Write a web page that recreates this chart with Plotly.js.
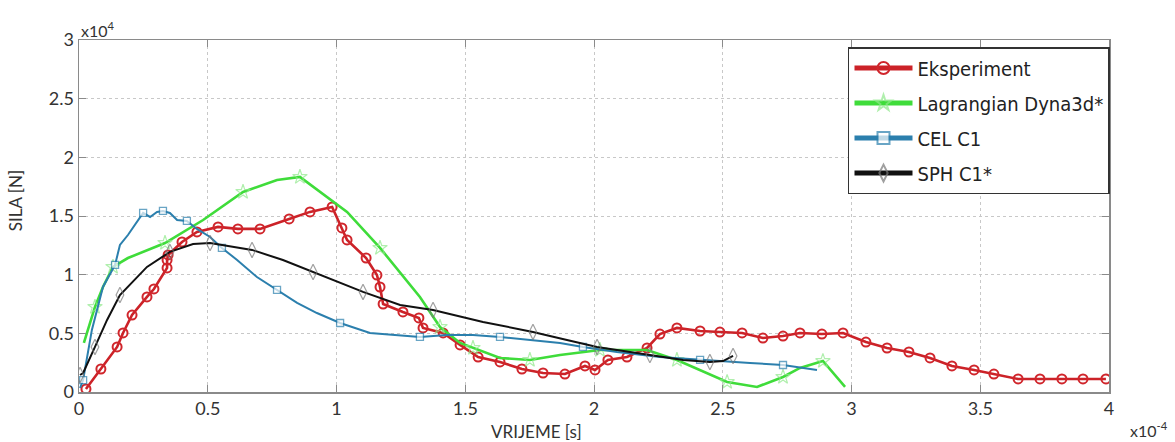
<!DOCTYPE html>
<html><head><meta charset="utf-8">
<script src="https://cdn.plot.ly/plotly-3.0.1.min.js"></script>
<style>html,body{margin:0;padding:0;background:#fff}#c{width:1175px;height:442px}</style>
</head><body><div id="c"></div>
<script>
// x in units of 1e-4 s, y in units of 1e4 N
const expX = [0.027,0.085,0.148,0.171,0.206,0.264,0.291,0.342,0.342,0.346,0.400,0.458,0.540,0.617,0.703,0.816,0.897,0.983,1.021,1.041,1.115,1.157,1.169,1.181,1.258,1.320,1.336,1.414,1.480,1.550,1.635,1.720,1.802,1.887,1.965,2.004,2.054,2.128,2.206,2.256,2.322,2.412,2.489,2.575,2.656,2.734,2.800,2.885,2.967,3.056,3.138,3.223,3.305,3.390,3.476,3.553,3.647,3.732,3.817,3.899,3.988];
const expY = [0.026,0.196,0.384,0.503,0.656,0.810,0.878,1.057,1.125,1.168,1.279,1.364,1.407,1.390,1.390,1.475,1.535,1.577,1.398,1.296,1.142,0.997,0.895,0.750,0.682,0.631,0.546,0.503,0.401,0.298,0.256,0.196,0.162,0.153,0.222,0.188,0.273,0.298,0.375,0.494,0.546,0.520,0.511,0.503,0.460,0.477,0.503,0.494,0.503,0.426,0.375,0.341,0.290,0.222,0.188,0.153,0.111,0.111,0.111,0.111,0.111];

const lagX = [0.019,0.062,0.093,0.132,0.190,0.334,0.482,0.637,0.769,0.858,1.041,1.169,1.324,1.402,1.480,1.530,1.635,1.751,1.868,2.023,2.206,2.322,2.412,2.517,2.633,2.734,2.800,2.889,2.975];
const lagY = [0.418,0.725,0.895,1.066,1.142,1.270,1.466,1.705,1.807,1.833,1.535,1.228,0.810,0.554,0.418,0.375,0.290,0.273,0.315,0.358,0.358,0.273,0.188,0.085,0.043,0.128,0.205,0.264,0.043];

const celX = [0.004,0.016,0.050,0.093,0.140,0.159,0.190,0.249,0.276,0.303,0.326,0.353,0.381,0.419,0.458,0.509,0.555,0.614,0.691,0.769,0.847,0.924,1.014,1.130,1.219,1.324,1.429,1.530,1.635,1.763,1.868,1.957,2.089,2.256,2.412,2.501,2.606,2.734,2.866];
const celY = [0.034,0.102,0.529,0.895,1.083,1.253,1.338,1.526,1.492,1.535,1.543,1.526,1.466,1.458,1.390,1.321,1.228,1.125,0.980,0.870,0.759,0.673,0.588,0.503,0.486,0.469,0.486,0.486,0.469,0.443,0.418,0.384,0.341,0.298,0.273,0.264,0.247,0.230,0.188];

const sphX = [0.004,0.016,0.062,0.109,0.159,0.264,0.353,0.443,0.509,0.559,0.672,0.792,0.909,1.014,1.103,1.247,1.375,1.569,1.763,1.895,2.012,2.089,2.217,2.346,2.450,2.501,2.540];
const sphY = [0.145,0.162,0.384,0.614,0.827,1.066,1.194,1.262,1.270,1.253,1.211,1.125,1.023,0.929,0.853,0.742,0.699,0.597,0.512,0.443,0.384,0.358,0.315,0.273,0.256,0.264,0.307];

const names = ['Eksperiment','Lagrangian Dyna3d*','CEL C1','SPH C1*'];
const xTicks = [0,0.5,1,1.5,2,2.5,3,3.5,4];
const yTicks = [0,0.5,1,1.5,2,2.5,3];

function every(n, k, off, s){ return Array.from({length:n},(_,i)=> (i%k===off)? s : 0); }

const traces = [
  {x:expX,y:expY,name:names[0],legendgroup:'a',mode:'lines+markers',
   line:{color:'#cc2228',width:2.6},
   marker:{symbol:'circle-open',size:9,color:'#d0262c',line:{width:2}}},
  {x:lagX,y:lagY,name:names[1],legendgroup:'b',mode:'lines+markers',
   line:{color:'#3fdc3a',width:2.6},
   marker:{symbol:'star-open',size:every(lagX.length,2,1,11),color:'#8ee88a',line:{width:1.2}}},
  {x:celX,y:celY,name:names[2],legendgroup:'c',mode:'lines+markers',
   line:{color:'#2b7fad',width:2},
   marker:{symbol:'square',size:every(celX.length,3,1,7),color:'#ffffff',line:{color:'#2b7fad',width:1.3}}},
  {x:sphX,y:sphY,name:names[3],legendgroup:'d',mode:'lines+markers',
   line:{color:'#111111',width:2},
   marker:{symbol:'diamond-tall-open',size:every(sphX.length,2,0,11),color:'#777777',line:{width:1.2}}}
];

const axisCommon = {
  showline:true, linecolor:'#8a8a8a', linewidth:1.5, mirror:'ticks',
  ticks:'inside', ticklen:7, tickcolor:'#8a8a8a',
  showgrid:true, gridcolor:'#c8c8c8', griddash:'dot', gridwidth:1,
  zeroline:false, tickfont:{family:'Lato, Open Sans, sans-serif', size:18, color:'#333'}
};

const layout = {
  width:1175, height:442,
  margin:{l:79, r:66, t:40, b:50},
  paper_bgcolor:'#fff', plot_bgcolor:'#fff',
  xaxis:Object.assign({}, axisCommon, {range:[0,4], tickvals:xTicks, ticktext:xTicks.map(String)}),
  yaxis:Object.assign({}, axisCommon, {range:[0,3], tickvals:yTicks, ticktext:yTicks.map(String)}),
  showlegend:true,
  legend:{x:0.7466, y:0.98, xanchor:'left', yanchor:'top',
    bgcolor:'#ffffff', bordercolor:'#333', borderwidth:1.5,
    font:{family:'Liberation Sans Narrow, Arial Narrow, DejaVu Sans Condensed, Roboto Condensed, sans-serif', size:20, color:'#222', stretch:'condensed'},
    itemsizing:'constant', itemwidth:58, tracegroupgap:6},
  annotations:[
    {xref:'paper', yref:'paper', x:0, y:1, xanchor:'left', yanchor:'bottom', yshift:-2,
     text:'x10<sup>4</sup>', showarrow:false, font:{family:'Lato, sans-serif', size:16, color:'#333'}},
    {xref:'paper', yref:'paper', x:1.0186, y:0, xanchor:'left', yanchor:'top', yshift:-25,
     text:'x10<sup>-4</sup>', showarrow:false, font:{family:'Lato, sans-serif', size:16, color:'#333'}},
    {xref:'paper', yref:'paper', x:0.4437, y:0, xanchor:'center', yanchor:'top', yshift:-27,
     text:'VRIJEME [s]', showarrow:false, font:{family:'Lato, sans-serif', size:17, color:'#333'}},
    {xref:'paper', yref:'paper', x:-0.062, y:0.5426, xanchor:'center', yanchor:'middle', textangle:-90,
     text:'SILA [N]', showarrow:false, font:{family:'Lato, sans-serif', size:17, color:'#333'}}
  ]
};

Plotly.newPlot('c', traces, layout, {displayModeBar:false, staticPlot:true});
</script>
</body></html>
